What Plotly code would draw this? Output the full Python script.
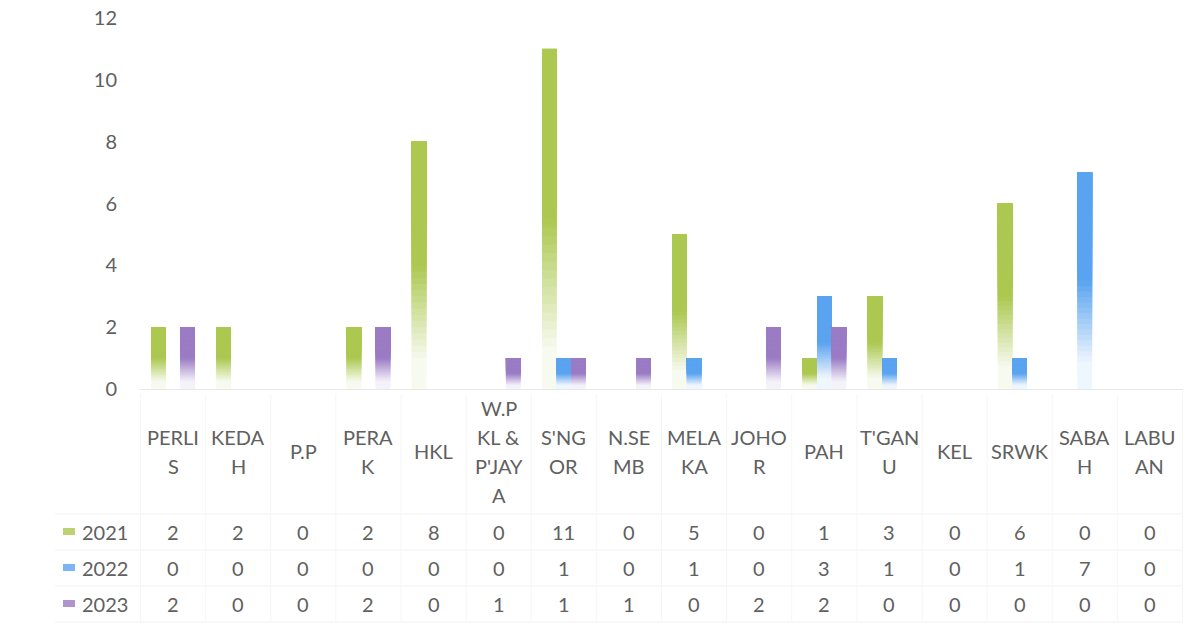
import plotly.graph_objects as go

categories = ["PERLIS", "KEDAH", "P.P", "PERAK", "HKL", "W.P KL & P'JAYA", "S'NGOR", "N.SEMB",
              "MELAKA", "JOHOR", "PAH", "T'GANU", "KEL", "SRWK", "SABAH", "LABUAN"]
label_lines = [["PERLI", "S"], ["KEDA", "H"], ["P.P"], ["PERA", "K"], ["HKL"], ["W.P", "KL &", "P'JAY", "A"],
               ["S'NG", "OR"], ["N.SE", "MB"], ["MELA", "KA"], ["JOHO", "R"], ["PAH"], ["T'GAN", "U"],
               ["KEL"], ["SRWK"], ["SABA", "H"], ["LABU", "AN"]]
years = ["2021", "2022", "2023"]
v2021 = [2, 2, 0, 2, 8, 0, 11, 0, 5, 0, 1, 3, 0, 6, 0, 0]
v2022 = [0, 0, 0, 0, 0, 0, 1, 0, 1, 0, 3, 1, 0, 1, 7, 0]
v2023 = [2, 0, 0, 2, 0, 1, 1, 1, 0, 2, 2, 0, 0, 0, 0, 0]
series = [v2021, v2022, v2023]
colors = [(172, 200, 80), (90, 163, 240), (154, 123, 196)]
y_ticks = [0, 2, 4, 6, 8, 10, 12]

TXT = "#606060"
FONT = "Lato"
FS = 20
N = 40

fig = go.Figure()

def mix(c, a):
    return "rgb(%d,%d,%d)" % tuple(round(255 + (ch - 255) * a) for ch in c)

for s, (vals, col, yr) in enumerate(zip(series, colors, years)):
    for i in range(N):
        t = (i + 0.5) / N
        a = min(1.0, max(0.1, (t - 0.08) / 0.42))
        fig.add_trace(go.Bar(
            x=categories,
            y=[v - v * i / N for v in vals],
            base=[v * i / N for v in vals],
            offsetgroup=yr,
            marker=dict(color=mix(col, a), line=dict(width=0)),
            showlegend=False, hoverinfo="skip",
        ))

W, H = 1184, 634
L, R, T, B = 140, 1, 18, 245
pw, ph = W - L - R, H - T - B

def px_to_paper_x(px):
    return (px - L) / pw

def px_to_paper_y(py):
    return (H - B - py) / ph

annotations = []
shapes = []
grid = "#f1f1f1"

# category labels
line_gap = 29
center_y = 451
for k, lines in enumerate(label_lines):
    n = len(lines)
    for j, ln in enumerate(lines):
        py = center_y + (j - (n - 1) / 2) * line_gap
        annotations.append(dict(x=categories[k], xref="x", y=0, yref="paper", yanchor="middle",
                                yshift=-(py - (H - B)), text=ln, showarrow=False,
                                font=dict(family=FONT, size=FS, color=TXT)))

# data rows
row_y = [532, 568, 604]
for r, (vals, col, yr) in enumerate(zip(series, colors, years)):
    py = row_y[r]
    for k, v in enumerate(vals):
        annotations.append(dict(x=categories[k], xref="x", y=0, yref="paper", yanchor="middle",
                                yshift=-(py - (H - B)), text=str(v), showarrow=False,
                                font=dict(family=FONT, size=FS, color=TXT)))
    annotations.append(dict(x=px_to_paper_x(80), xref="paper", xanchor="left", y=0, yref="paper",
                            yanchor="middle", yshift=-(py - (H - B)), text=yr, showarrow=False,
                            font=dict(family=FONT, size=FS, color=TXT)))
    shapes.append(dict(type="rect", xref="paper", yref="paper",
                       x0=px_to_paper_x(63), x1=px_to_paper_x(75),
                       y0=px_to_paper_y(py + 3), y1=px_to_paper_y(py - 4),
                       fillcolor=mix(col, 0.8), line=dict(width=0)))

# table grid
for py in [514, 550, 586, 622]:
    shapes.append(dict(type="line", xref="paper", yref="paper",
                       x0=px_to_paper_x(55), x1=1, y0=px_to_paper_y(py), y1=px_to_paper_y(py),
                       line=dict(color=grid, width=1)))
for k in range(len(categories) + 1):
    shapes.append(dict(type="line", xref="x", yref="paper",
                       x0=k - 0.5, x1=k - 0.5, y0=px_to_paper_y(394), y1=px_to_paper_y(622),
                       line=dict(color="#f6f6f6", width=1)))

fig.update_layout(
    width=W, height=H,
    margin=dict(l=L, r=R, t=T, b=B),
    paper_bgcolor="white", plot_bgcolor="white",
    barmode="group", bargap=0.33, bargroupgap=0,
    showlegend=False,
    font=dict(family=FONT, size=FS, color=TXT),
    xaxis=dict(showticklabels=False, ticks="", showgrid=False, zeroline=False,
               showline=True, linecolor="#e8e8e8", linewidth=1),
    yaxis=dict(range=[0, 12], tickvals=y_ticks, showgrid=False, zeroline=False,
               showline=False, ticks="", ticklabelstandoff=22,
               tickfont=dict(family=FONT, size=FS, color=TXT)),
    annotations=annotations, shapes=shapes,
)

fig.write_html("out.html", config={"displayModeBar": False},
               post_script="document.body.style.margin='0';")
